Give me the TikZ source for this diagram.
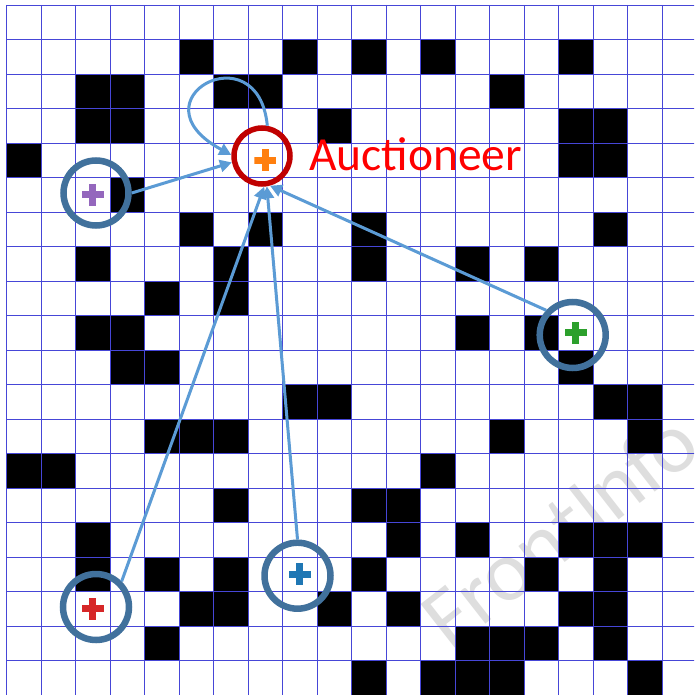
\documentclass[tikz,border=0pt]{standalone}
\usepackage{fontspec}
\setmainfont{Carlito}
\usetikzlibrary{arrows.meta}
\definecolor{gridblue}{RGB}{70,70,215}
\definecolor{ringblue}{RGB}{65,113,156}
\definecolor{ringred}{RGB}{192,0,0}
\definecolor{arrowblue}{RGB}{91,155,213}
\definecolor{plpurple}{RGB}{148,103,189}
\definecolor{plorange}{RGB}{255,127,14}
\definecolor{plred}{RGB}{214,39,40}
\definecolor{plblue}{RGB}{31,119,180}
\definecolor{plgreen}{RGB}{44,160,44}
\definecolor{wmark}{RGB}{222,222,222}
\tikzset{
  gridline/.style={draw=gridblue, line width=0.8pt},
  ring/.style={circle, draw=ringblue, line width=6.5pt, inner sep=0pt, minimum size=66pt},
  auctring/.style={circle, draw=ringred, line width=5.5pt, inner sep=0pt, minimum size=56pt},
  plussign/.style={minimum size=22pt, inner sep=0pt,
    path picture={
      \fill[#1] ([xshift=-11pt,yshift=-3.6pt]path picture bounding box.center) rectangle ++(22pt,7.2pt);
      \fill[#1] ([xshift=-3.6pt,yshift=-11pt]path picture bounding box.center) rectangle ++(7.2pt,22pt);
    }},
  arr/.style={draw=arrowblue, line width=3pt, -{Triangle[length=12pt,width=12pt]}}
}
\begin{document}
\begin{tikzpicture}[x=1pt,y=1pt]
\useasboundingbox (0,0) rectangle (694,-695);
\begin{scope}
  \clip (0,0) rectangle (694,-695);
  \fill[white] (0,0) rectangle (694,-695);
  \node[anchor=base west, text=wmark, font=\fontsize{86}{96}\selectfont, rotate=38, inner sep=0pt] (wm) at (450,-652) {FrontInfo};
  \foreach \r/\cs in {1/{5,8,10,12,16},2/{2,3,6,7,14},3/{2,3,9,16,17},4/{0,16,17},5/{3},
      6/{5,7,10,17},7/{2,6,10,13,15},8/{4,6},9/{2,3,13,15},10/{3,4,16},
      11/{8,9,17,18},12/{4,5,6,14,18},13/{0,1,12},14/{6,10,11},15/{2,11,13,16,17,18},
      16/{2,4,6,10,15,17},17/{5,6,9,11,16,17},18/{4,13,14,15,17},19/{10,12,13,14,18}}
    {\foreach \c in \cs {\fill[black] (6.5+34.5*\c,-5-34.5*\r) rectangle ++(34.5,-34.5);}}
  \foreach \k in {0,...,20} {
    \draw[gridline] (6.5+34.5*\k,-5) -- (6.5+34.5*\k,-695);
    \draw[gridline] (6.5,-5-34.5*\k) -- (696.5,-5-34.5*\k);
  }
\end{scope}

\node[plussign=plpurple] (pp) at (92.75,-194.75) {};
\node[plussign=plorange] (po) at (265.25,-160.25) {};
\node[plussign=plred] (pr) at (92.75,-608.75) {};
\node[plussign=plblue] (pb) at (299.75,-574.25) {};
\node[plussign=plgreen] (pg) at (575.75,-332.75) {};

\node[ring, minimum size=65pt] (purple) at (96,-193) {};
\node[ring] (red) at (96,-607) {};
\node[ring] (blue) at (297.5,-575.7) {};
\node[ring] (green) at (572.7,-335) {};
\node[auctring] (auct) at (262,-156) {};

\node[anchor=base west, text=red, font=\fontsize{47.5}{52}\selectfont, inner sep=0pt] (label) at (309,-171) {Auctioneer};

\draw[arr] (purple.east) -- (auct.192);
\draw[arr] (auct.80) .. controls (258,-30) and (130,-100) .. (auct.178);
\draw[arr] (red.45) -- (auct.274);
\draw[arr] (blue.north) -- (auct.279);
\draw[arr] (green.137) -- (auct.285);
\end{tikzpicture}
\end{document}
